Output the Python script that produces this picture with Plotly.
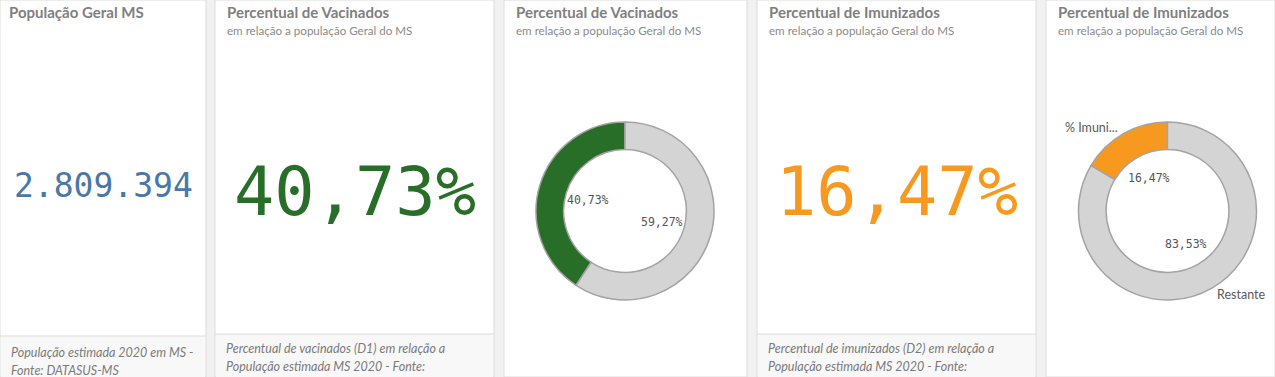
import math
import plotly.graph_objects as go

W, H = 1275, 377

# ---- data ----
populacao_ms = 2809394
pct_vacinados = 40.73
pct_imunizados = 16.47
donut_vac_labels = ["% Vacinados", "Restante"]
donut_vac_values = [40.73, 59.27]
donut_imu_labels = ["% Imunizados", "Restante"]
donut_imu_values = [16.47, 83.53]

titles = ["População Geral MS", "Percentual de Vacinados", "Percentual de Vacinados",
          "Percentual de Imunizados", "Percentual de Imunizados"]
subtitle = "em relação a população Geral do MS"
footers = {
    0: ["População estimada 2020 em MS -", "Fonte: DATASUS-MS"],
    1: ["Percentual de vacinados (D1) em relação a", "População estimada MS 2020 - Fonte:"],
    3: ["Percentual de imunizados (D2) em relação a", "População estimada MS 2020 - Fonte:"],
}

# ---- styles ----
BLUE = "#4a77a8"
GREEN = "#286e28"
ORANGE = "#f7991f"
GREY_SLICE = "#d4d4d4"
TITLE_C = "#7f7f7f"
SUB_C = "#8a8a8a"
TXT_FONT = "Lato"
NUM_FONT = "DejaVu Sans Mono"

panels = [(0, 206), (215, 494), (504, 747), (757, 1036), (1046, 1275)]
footer_top = {0: 336, 1: 334, 3: 334}


def px(x):
    return x / W


def py(y):
    return 1 - y / H


def fmt_int(v):
    return f"{v:,}".replace(",", ".")


def fmt_pct(v):
    return f"{v:.2f}".replace(".", ",") + "%"


fig = go.Figure()
shapes = []
ann = []

# panels
for i, (x0, x1) in enumerate(panels):
    shapes.append(dict(type="rect", xref="paper", yref="paper", x0=px(x0), x1=px(x1),
                       y0=0, y1=1, fillcolor="white", line=dict(color="#dcdcdc", width=1),
                       layer="below"))
    if i in footer_top:
        ft = footer_top[i]
        shapes.append(dict(type="rect", xref="paper", yref="paper", x0=px(x0 + 1), x1=px(x1 - 1),
                           y0=0, y1=py(ft), fillcolor="#f8f8f8",
                           line=dict(width=0), layer="below"))
        shapes.append(dict(type="line", xref="paper", yref="paper", x0=px(x0), x1=px(x1),
                           y0=py(ft), y1=py(ft), line=dict(color="#dcdcdc", width=1),
                           layer="below"))
        lines = footers[i]
        ys = [352, 370] if i == 0 else [348, 366]
        for t, yy in zip(lines, ys):
            ann.append(dict(text=f"<i>{t}</i>", xref="paper", yref="paper",
                            x=px(x0 + 9), y=py(yy), xanchor="left", yanchor="middle",
                            showarrow=False, font=dict(family=TXT_FONT, size=12.5, color="#7a7a7a")))
    # titles
    ann.append(dict(text=f"<b>{titles[i]}</b>", xref="paper", yref="paper",
                    x=px(x0 + (7 if i == 0 else 10)), y=py(12), xanchor="left", yanchor="middle",
                    showarrow=False, font=dict(family=TXT_FONT, size=15, color=TITLE_C)))
    if i > 0:
        ann.append(dict(text=subtitle, xref="paper", yref="paper",
                        x=px(x0 + 10), y=py(30), xanchor="left", yanchor="middle",
                        showarrow=False, font=dict(family=TXT_FONT, size=11.6, color=SUB_C)))

# KPI numbers
kpis = [(0, fmt_int(populacao_ms), BLUE, 33, 185),
        (1, fmt_pct(pct_vacinados), GREEN, 67, 192),
        (3, fmt_pct(pct_imunizados), ORANGE, 67, 192)]
for i, txt, col, size, yc in kpis:
    x0, x1 = panels[i]
    ann.append(dict(text=txt, xref="paper", yref="paper", x=px((x0 + x1) / 2), y=py(yc),
                    xanchor="center", yanchor="middle", showarrow=False,
                    font=dict(family=NUM_FONT, size=size, color=col)))

# donuts
donuts = [
    (donut_vac_labels, donut_vac_values, [GREEN, GREY_SLICE], (625, 211), False),
    (donut_imu_labels, donut_imu_values, [ORANGE, GREY_SLICE], (1167.5, 211), True),
]
R = 89
for labels, values, cols, (cx, cy), outside in donuts:
    total = sum(values)
    # first slice runs counterclockwise from 12 o'clock: start it at -share*360 clockwise
    start = -values[0] / total * 360
    fig.add_trace(go.Pie(
        labels=labels, values=values, hole=0.69, sort=False, direction="clockwise",
        rotation=start, textinfo="none", hoverinfo="label+percent",
        marker=dict(colors=cols, line=dict(color="#a3a3a3", width=1.5)),
        domain=dict(x=[px(cx - R), px(cx + R)], y=[py(cy + R), py(cy - R)]),
        showlegend=False,
    ))
    cum = 0
    for lab, v in zip(labels, values):
        mid = (cum + v / 2) / total * 2 * math.pi
        cum += v
        dx, dy = -math.sin(mid), math.cos(mid)
        tx, ty = cx + dx * R * 0.43, cy - dy * R * 0.43
        ann.append(dict(text=fmt_pct(v / total * 100), xref="paper", yref="paper",
                        x=px(tx), y=py(ty), xanchor="center", yanchor="middle",
                        showarrow=False, font=dict(family=NUM_FONT, size=11.5, color="#555555")))
        if outside:
            ox, oy = cx + dx * R * 1.08, cy - dy * R * 1.08
            name = lab if len(lab) <= 9 else lab[:7] + "..."
            ann.append(dict(text=name, xref="paper", yref="paper", x=px(ox), y=py(oy),
                            xanchor="right" if dx < 0 else "left", yanchor="middle",
                            showarrow=False, font=dict(family=TXT_FONT, size=12.5, color="#595959")))

fig.update_layout(
    width=W, height=H, margin=dict(l=0, r=0, t=0, b=0),
    paper_bgcolor="#f1f1f1", plot_bgcolor="#f1f1f1",
    shapes=shapes, annotations=ann,
    xaxis=dict(visible=False), yaxis=dict(visible=False),
)
fig.write_html("out.html")
